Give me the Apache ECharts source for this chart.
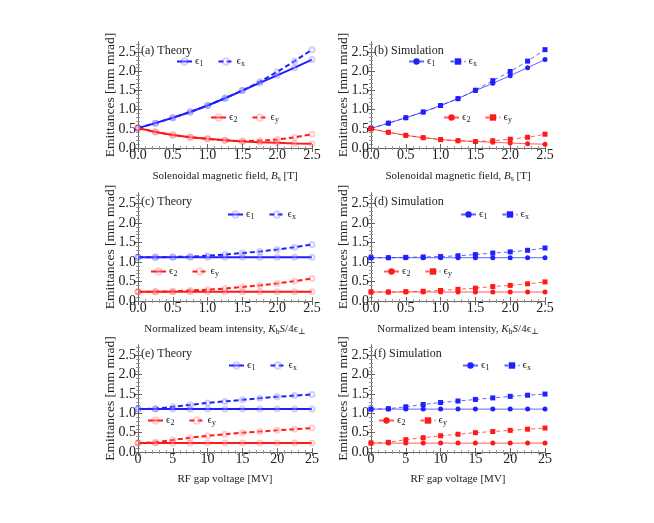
<!DOCTYPE html>
<html><head><meta charset="utf-8">
<script src="https://cdn.jsdelivr.net/npm/echarts@6/dist/echarts.min.js"></script>
<style>html,body{margin:0;padding:0;background:#fff}#c{width:654px;height:523px}</style>
</head><body><div id="c"></div>
<script>
// x values
const xField = [0,0.25,0.5,0.75,1.0,1.25,1.5,1.75,2.0,2.25,2.5];
const xInten = [0,0.25,0.5,0.75,1.0,1.25,1.5,1.75,2.0,2.25,2.5];
const xVolt  = [0,2.5,5,7.5,10,12.5,15,17.5,20,22.5,25];
// (a) theory
const aE1 = [0.52,0.65,0.79,0.94,1.11,1.30,1.50,1.70,1.90,2.10,2.31];
const aEx = [0.52,0.65,0.79,0.94,1.11,1.30,1.50,1.73,1.99,2.27,2.57];
const aE2 = [0.52,0.42,0.34,0.28,0.24,0.20,0.17,0.15,0.14,0.12,0.11];
const aEy = [0.52,0.42,0.34,0.28,0.24,0.20,0.18,0.19,0.22,0.28,0.36];
// (b) simulation
const bE1 = [0.51,0.65,0.79,0.94,1.11,1.29,1.50,1.69,1.89,2.10,2.31];
const bEx = [0.51,0.65,0.79,0.94,1.11,1.29,1.51,1.76,2.00,2.27,2.57];
const bE2 = [0.50,0.41,0.33,0.27,0.22,0.19,0.17,0.15,0.13,0.11,0.10];
const bEy = [0.50,0.41,0.33,0.27,0.22,0.19,0.17,0.19,0.23,0.28,0.36];
// (c) theory
const cE1 = [1.12,1.12,1.12,1.12,1.12,1.12,1.12,1.12,1.12,1.12,1.12];
const cEx = [1.12,1.12,1.13,1.14,1.16,1.19,1.23,1.27,1.32,1.38,1.45];
const cE2 = [0.24,0.24,0.24,0.24,0.24,0.24,0.24,0.24,0.24,0.24,0.24];
const cEy = [0.24,0.24,0.25,0.27,0.29,0.32,0.36,0.40,0.45,0.51,0.58];
// (d) simulation
const dE1 = [1.11,1.11,1.11,1.11,1.11,1.11,1.11,1.11,1.11,1.11,1.11];
const dEx = [1.11,1.11,1.12,1.13,1.14,1.16,1.19,1.23,1.26,1.30,1.36];
const dE2 = [0.23,0.23,0.23,0.23,0.23,0.23,0.23,0.23,0.23,0.23,0.23];
const dEy = [0.23,0.23,0.24,0.25,0.27,0.30,0.33,0.37,0.40,0.44,0.49];
// (e) theory
const eE1 = [1.11,1.11,1.11,1.11,1.11,1.11,1.11,1.11,1.11,1.11,1.11];
const eEx = [1.11,1.12,1.17,1.22,1.27,1.31,1.35,1.39,1.43,1.46,1.49];
const eE2 = [0.23,0.23,0.23,0.23,0.23,0.23,0.23,0.23,0.23,0.23,0.23];
const eEy = [0.23,0.25,0.31,0.37,0.42,0.46,0.50,0.53,0.56,0.59,0.62];
// (f) simulation
const fE1 = [1.11,1.11,1.11,1.11,1.11,1.11,1.11,1.11,1.11,1.11,1.11];
const fEx = [1.11,1.12,1.17,1.23,1.28,1.32,1.36,1.40,1.44,1.47,1.50];
const fE2 = [0.23,0.23,0.23,0.23,0.23,0.23,0.23,0.23,0.23,0.23,0.23];
const fEy = [0.23,0.25,0.32,0.37,0.42,0.46,0.50,0.53,0.56,0.59,0.62];

const panelTitles = ['(a) Theory','(b) Simulation','(c) Theory','(d) Simulation','(e) Theory','(f) Simulation'];
const xNames = [
  'Solenoidal magnetic field, {i|B}{s|s} [T]',
  'Solenoidal magnetic field, {i|B}{s|s} [T]',
  'Normalized beam intensity, {i|K}{s|b}{i|S}/4{n|ϵ}{s|⊥}',
  'Normalized beam intensity, {i|K}{s|b}{i|S}/4{n|ϵ}{s|⊥}',
  'RF gap voltage [MV]',
  'RF gap voltage [MV]'
];
const yName = 'Emittances [mm mrad]';

const FONT = '"Liberation Serif","DejaVu Serif",serif';
const BLUE = '#1f1fff', RED = '#ff1a1a';
const lefts = [138, 371], tops = [42, 193, 345], W = 174, Hs = [106, 108, 107];

const panels = [
  {x:xField, d:[aE1,aEx,aE2,aEy], theory:true,  max:2.5, step:0.5},
  {x:xField, d:[bE1,bEx,bE2,bEy], theory:false, max:2.5, step:0.5},
  {x:xInten, d:[cE1,cEx,cE2,cEy], theory:true,  max:2.5, step:0.5},
  {x:xInten, d:[dE1,dEx,dE2,dEy], theory:false, max:2.5, step:0.5},
  {x:xVolt,  d:[eE1,eEx,eE2,eEy], theory:true,  max:25,  step:5},
  {x:xVolt,  d:[fE1,fEx,fE2,fEy], theory:false, max:25,  step:5}
];
// legend anchor positions [x,y] for (e1,ex) and (e2,ey) legends
const legPos = [
  [[176,63],[210,119]],
  [[408,63],[443,119]],
  [[227,216],[150,273]],
  [[460,216],[383,273]],
  [[228,367],[147,422]],
  [[462,367],[378,422]]
];
const keys = ['1','x','2','y'];
const labelMap = {'1':'{n|ϵ}{s|1}','x':'{n|ϵ}{s|x}','2':'{n|ϵ}{s|2}','y':'{n|ϵ}{s|y}'};
const richSub = {
  n:{fontFamily:FONT,fontSize:11,color:'#222'},
  s:{fontFamily:FONT,fontSize:8,color:'#222',padding:[5,0,0,0]},
  i:{fontFamily:FONT,fontSize:11,fontStyle:'italic',color:'#222'}
};

const grid=[], xAxis=[], yAxis=[], series=[], legend=[], title=[];
const axisCol = '#666';
panels.forEach((p,k)=>{
  const col = k%2, row = Math.floor(k/2);
  grid.push({left:lefts[col], top:tops[row], width:W, height:Hs[row], containLabel:false});
  const fmtX = v => p.step<1 ? v.toFixed(1) : String(v);
  const common = {type:'value', gridIndex:k, min:0, splitLine:{show:false},
    axisLine:{show:true,lineStyle:{color:axisCol,width:1}},
    axisTick:{show:true,inside:true,length:4,lineStyle:{color:axisCol}},
    minorTick:{show:true,splitNumber:5,length:2,lineStyle:{color:'#999'}}};
  xAxis.push(Object.assign({}, common, {position:'bottom', max:p.max, interval:p.step,
    axisLabel:{formatter:fmtX, fontFamily:FONT, fontSize:14, color:'#222', margin:0},
    name:xNames[k], nameLocation:'middle', nameGap:22, nameMoveOverlap:false,
    nameTextStyle:{fontFamily:FONT, fontSize:11, color:'#222', rich:richSub}}));
  xAxis.push(Object.assign({}, common, {position:'top', max:p.max, interval:p.step, axisLabel:{show:false}}));
  yAxis.push(Object.assign({}, common, {position:'left', max:2.77, interval:0.5,
    axisLabel:{formatter:v=>v.toFixed(1), fontFamily:FONT, fontSize:14, color:'#222', margin:2, showMaxLabel:false},
    axisTick:{show:true,inside:true,length:4,lineStyle:{color:axisCol}, customValues:[0,0.5,1,1.5,2,2.5]},
    name:yName, nameLocation:'middle', nameGap:21, nameRotate:90, nameMoveOverlap:false,
    nameTextStyle:{fontFamily:FONT, fontSize:13.5, color:'#222'}}));
  yAxis.push(Object.assign({}, common, {position:'right', max:2.77, interval:0.5, axisLabel:{show:false},
    axisTick:{show:true,inside:true,length:4,lineStyle:{color:axisCol}, customValues:[0,0.5,1,1.5,2,2.5]}}));
  title.push({text:panelTitles[k], left:lefts[col]+3, top:tops[row]+3, padding:0,
    textStyle:{fontFamily:FONT, fontSize:12, fontWeight:'normal', color:'#222'}});
  p.d.forEach((arr,j)=>{
    const color = j<2 ? BLUE : RED;
    const dashed = (j%2===1);
    const name = 'p'+k+'-'+keys[j];
    const s = {type:'line', name, xAxisIndex:2*k, yAxisIndex:2*k,
      data: p.x.map((x,i)=>[x,arr[i]]), animation:false, z: dashed?3:2};
    if (p.theory) {
      s.lineStyle = {color, width:2, type: dashed?[5,3]:'solid'};
      s.symbol = 'emptyCircle'; s.symbolSize = 5;
      s.itemStyle = {color, borderColor: color, borderWidth:0.8, opacity:0.22};
    } else {
      s.lineStyle = {color, width:1, opacity:0.7, type: dashed?[4,3]:'solid'};
      s.symbol = dashed ? 'rect' : 'circle'; s.symbolSize = 5;
      s.itemStyle = {color};
    }
    series.push(s);
  });
  [[0,1],[2,3]].forEach((pair,li)=>{
    const pos = legPos[k][li];
    legend.push({left:pos[0], top:pos[1]-7, orient:'horizontal', selectedMode:false, padding:0,
      itemWidth:15, itemHeight:8, itemGap:14,
      data: pair.map(j=>'p'+k+'-'+keys[j]),
      formatter: nm => labelMap[nm.split('-')[1]],
      textStyle:{fontFamily:FONT, fontSize:11, color:'#222', padding:[0,0,0,-2], rich:richSub}});
  });
});

const chart = echarts.init(document.getElementById('c'), null, {renderer:'canvas'});
chart.setOption({backgroundColor:'#fff', animation:false, grid, xAxis, yAxis, series, legend, title});
</script></body></html>
